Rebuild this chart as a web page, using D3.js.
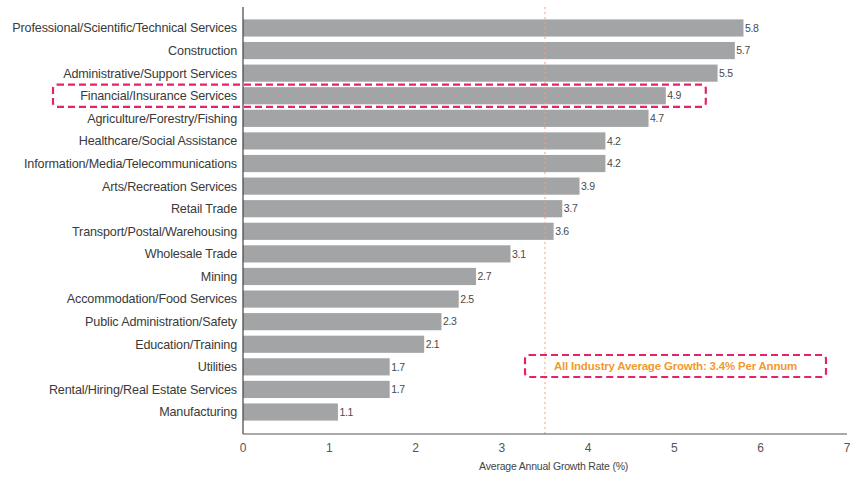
<!DOCTYPE html>
<html>
<head>
<meta charset="utf-8">
<script src="https://cdn.jsdelivr.net/npm/d3@7"></script>
<style>
  body { margin: 0; background: #fff; }
  svg { display: block; font-family: "Liberation Sans", Arial, sans-serif; }
</style>
</head>
<body>
<script>
const industries = [
  "Professional/Scientific/Technical Services",
  "Construction",
  "Administrative/Support Services",
  "Financial/Insurance Services",
  "Agriculture/Forestry/Fishing",
  "Healthcare/Social Assistance",
  "Information/Media/Telecommunications",
  "Arts/Recreation Services",
  "Retail Trade",
  "Transport/Postal/Warehousing",
  "Wholesale Trade",
  "Mining",
  "Accommodation/Food Services",
  "Public Administration/Safety",
  "Education/Training",
  "Utilities",
  "Rental/Hiring/Real Estate Services",
  "Manufacturing"
];
const growth = [5.8, 5.7, 5.5, 4.9, 4.7, 4.2, 4.2, 3.9, 3.7, 3.6, 3.1, 2.7, 2.5, 2.3, 2.1, 1.7, 1.7, 1.1];
const xTicks = [0, 1, 2, 3, 4, 5, 6, 7];
const highlighted = "Financial/Insurance Services";
const averageLine = 3.5;
const averageText = "All Industry Average Growth: 3.4% Per Annum";
const xTitle = "Average Annual Growth Rate (%)";

const width = 850;
const height = 477;
const margin = { top: 7, right: 3, bottom: 43, left: 243 };
const axisY = height - margin.bottom;

const svg = d3.select("body").append("svg")
  .attr("width", width)
  .attr("height", height);

const x = d3.scaleLinear()
  .domain([0, 7])
  .range([margin.left, width - margin.right]);

const y = d3.scaleBand()
  .domain(industries)
  .range([16, 424])
  .paddingInner(0.24)
  .paddingOuter(0.15);

// bars
svg.append("g")
  .selectAll("rect")
  .data(industries)
  .join("rect")
  .attr("x", x(0))
  .attr("y", d => y(d))
  .attr("width", (d, i) => x(growth[i]) - x(0))
  .attr("height", y.bandwidth())
  .attr("fill", "#a3a4a6");

// value labels
svg.append("g")
  .selectAll("text")
  .data(industries)
  .join("text")
  .attr("x", (d, i) => x(growth[i]) + 1.5)
  .attr("y", d => y(d) + y.bandwidth() / 2)
  .attr("dy", "0.35em")
  .attr("font-size", "10.5px")
  .attr("letter-spacing", "-0.3px")
  .attr("fill", "#4a4a4a")
  .text((d, i) => growth[i].toFixed(1));

// category labels
svg.append("g")
  .selectAll("text")
  .data(industries)
  .join("text")
  .attr("x", x(0) - 6)
  .attr("y", d => y(d) + y.bandwidth() / 2)
  .attr("dy", "0.35em")
  .attr("text-anchor", "end")
  .attr("font-size", "12.6px")
  .attr("letter-spacing", "-0.15px")
  .attr("fill", "#3a3a3a")
  .text(d => d);

// average line
svg.append("line")
  .attr("x1", x(averageLine))
  .attr("x2", x(averageLine))
  .attr("y1", margin.top)
  .attr("y2", axisY)
  .attr("stroke", "#f2a07a")
  .attr("stroke-width", 1)
  .attr("stroke-dasharray", "2,3");

// axes
svg.append("line")
  .attr("x1", x(0)).attr("x2", x(0))
  .attr("y1", margin.top).attr("y2", axisY)
  .attr("stroke", "#444").attr("stroke-width", 1.2);

svg.append("line")
  .attr("x1", x(0)).attr("x2", x(7))
  .attr("y1", axisY).attr("y2", axisY)
  .attr("stroke", "#555").attr("stroke-width", 1);

svg.append("g")
  .selectAll("text")
  .data(xTicks)
  .join("text")
  .attr("x", d => x(d))
  .attr("y", axisY + 18)
  .attr("text-anchor", "middle")
  .attr("font-size", "12px")
  .attr("fill", "#555")
  .text(d => d);

svg.append("text")
  .attr("x", x(3.6))
  .attr("y", axisY + 36)
  .attr("text-anchor", "middle")
  .attr("font-size", "10.5px")
  .attr("letter-spacing", "-0.2px")
  .attr("fill", "#444")
  .text(xTitle);

// highlight box around Financial/Insurance
const hy = y(highlighted);
svg.append("rect")
  .attr("x", 53)
  .attr("y", hy - 2.5)
  .attr("width", x(growth[industries.indexOf(highlighted)]) + 40 - 53)
  .attr("height", y.bandwidth() + 5)
  .attr("rx", 4)
  .attr("fill", "none")
  .attr("stroke", "#e5226b")
  .attr("stroke-width", 2.2)
  .attr("stroke-dasharray", "7,4");

// annotation box
const annX = 525, annY = 355, annW = 301, annH = 22;
svg.append("rect")
  .attr("x", annX)
  .attr("y", annY)
  .attr("width", annW)
  .attr("height", annH)
  .attr("rx", 4)
  .attr("fill", "none")
  .attr("stroke", "#e5226b")
  .attr("stroke-width", 2.2)
  .attr("stroke-dasharray", "7,4");

svg.append("text")
  .attr("x", annX + annW / 2)
  .attr("y", annY + annH / 2)
  .attr("dy", "0.35em")
  .attr("text-anchor", "middle")
  .attr("font-size", "11.5px")
  .attr("font-weight", "bold")
  .attr("letter-spacing", "-0.2px")
  .attr("fill", "#f39a2e")
  .text(averageText);
</script>
</body>
</html>
